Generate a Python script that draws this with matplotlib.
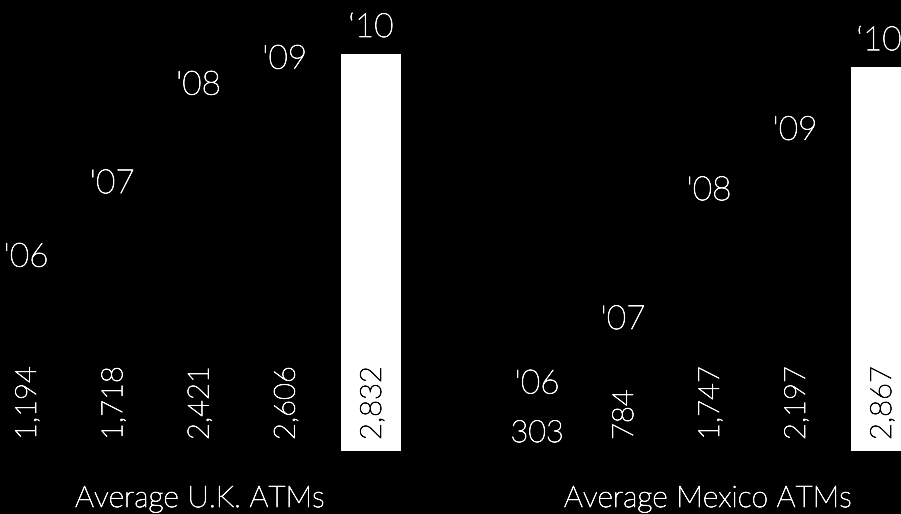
import matplotlib
matplotlib.use("Agg")
import matplotlib.pyplot as plt
import matplotlib.patheffects as pe

years = ["'06", "'07", "'08", "'09", "\u201810"]
uk_values = [1194, 1718, 2421, 2606, 2832]
mx_values = [303, 784, 1747, 2197, 2867]
uk_title = "Average U.K. ATMs"
mx_title = "Average Mexico ATMs"

FONT = ["Lato", "DejaVu Sans"]
WEIGHT = "light"
W, H = 901, 514
fig = plt.figure(figsize=(W / 100, H / 100), dpi=100, facecolor="black")

base_px = 451  # baseline from top


def fx(color):
    return [pe.withStroke(linewidth=0.55, foreground=color)]


def make_panel(left_px, width_px, xlim, ylim, values, horizontal_first=False, last_shift=0):
    ax = fig.add_axes([left_px / W, (H - base_px) / H, width_px / W, base_px / H])
    ax.set_facecolor("black")
    ax.set_xlim(*xlim)
    ax.set_ylim(*ylim)
    ax.axis("off")
    x = list(range(len(values)))
    colors = ["black"] * (len(values) - 1) + ["white"]
    ax.bar(x, values, width=0.696, color=colors, linewidth=0)
    n = len(values)
    for i, (v, yr) in enumerate(zip(values, years)):
        dx = last_shift if i == n - 1 else 0
        ax.annotate(yr, (i, v), xytext=(dx, 17), textcoords="offset pixels",
                    ha="center", va="baseline", color="white", fontsize=24,
                    family=FONT, fontweight=WEIGHT, annotation_clip=False,
                    path_effects=fx("white"))
        tc = "black" if i == n - 1 else "white"
        lab = f"{v:,}"
        if horizontal_first and i == 0:
            ax.annotate(lab, (i, 0), xytext=(0, 9), textcoords="offset pixels",
                        ha="center", va="baseline", color=tc, fontsize=22,
                        family=FONT, fontweight=WEIGHT, path_effects=fx(tc))
        else:
            ax.annotate(lab, (i, 0), xytext=(2, 11), textcoords="offset pixels",
                        ha="center", va="bottom", rotation=90, color=tc,
                        fontsize=21, family=FONT, fontweight=WEIGHT,
                        path_effects=fx(tc))
    return ax


make_panel(0, 414, (-0.301, 4.5), (0, 451 / 0.1402), uk_values)
make_panel(470, 431, (-0.779, 4.233), (0, 451 / 0.1339), mx_values,
           horizontal_first=True, last_shift=-2)

fig.text(200 / W, 1 - 507 / H, uk_title, ha="center", va="baseline", color="white",
         fontsize=21.5, family=FONT, fontweight=WEIGHT, path_effects=fx("white"))
fig.text(708 / W, 1 - 507 / H, mx_title, ha="center", va="baseline", color="white",
         fontsize=21.5, family=FONT, fontweight=WEIGHT, path_effects=fx("white"))

fig.savefig("out.png", dpi=100, facecolor="black")
